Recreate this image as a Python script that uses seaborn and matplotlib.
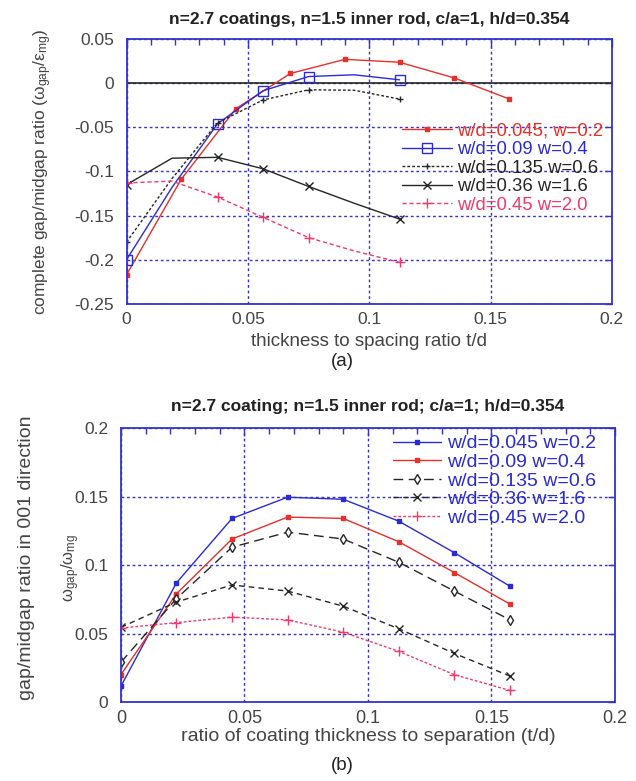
import matplotlib
matplotlib.use("Agg")
import matplotlib.pyplot as plt
from matplotlib.ticker import MultipleLocator
import seaborn as sns

# ---- panel (a): gap/midgap vs t/d ----
t_a_045 = [0, 0.0225, 0.045, 0.0675, 0.09, 0.1125, 0.135, 0.1575]
g_a_045 = [-0.217, -0.109, -0.029, 0.011, 0.027, 0.0237, 0.006, -0.0177]
t_a = [0, 0.01875, 0.0375, 0.05625, 0.075, 0.09375, 0.1125]
g_a_09 = [-0.2, -0.118, -0.046, -0.0086, 0.0075, 0.0095, 0.0038]
g_a_135 = [-0.18, -0.108, -0.045, -0.019, -0.0075, -0.008, -0.018]
g_a_36 = [-0.115, -0.085, -0.084, -0.097, -0.117, -0.136, -0.154]
g_a_45 = [-0.113, -0.111, -0.129, -0.152, -0.175, -0.19, -0.203]
labels_a = ["w/d=0.045, w=0.2", "w/d=0.09 w=0.4", "w/d=0.135 w=0.6",
            "w/d=0.36 w=1.6", "w/d=0.45 w=2.0"]

# ---- panel (b): 001 direction ----
t_b = [0, 0.0225, 0.045, 0.0675, 0.09, 0.1125, 0.135, 0.1575]
g_b_045 = [0.0115, 0.087, 0.134, 0.1495, 0.148, 0.132, 0.109, 0.0845]
g_b_09 = [0.020, 0.079, 0.119, 0.135, 0.134, 0.117, 0.0945, 0.0715]
g_b_135 = [0.029, 0.0755, 0.113, 0.124, 0.119, 0.102, 0.081, 0.060]
g_b_36 = [0.0545, 0.073, 0.0855, 0.081, 0.070, 0.0535, 0.0355, 0.019]
g_b_45 = [0.054, 0.058, 0.062, 0.060, 0.051, 0.037, 0.020, 0.0085]
labels_b = ["w/d=0.045 w=0.2", "w/d=0.09 w=0.4", "w/d=0.135 w=0.6",
            "w/d=0.36 w=1.6", "w/d=0.45 w=2.0"]

ROJO = "#e8302a"
AZUL = "#2b2bd6"
NEGRO = "#262626"
ROSA = "#f23a6a"
MARCO = "#3333cc"
GRIS = "#444444"

sns.set_style("white")
plt.rcParams["font.family"] = ["Liberation Sans", "DejaVu Sans"]
plt.rcParams["mathtext.default"] = "regular"


def fmt(v, p):
    v = round(v, 4)
    return "0" if v == 0 else f"{v:g}"


def serie(ax, t, g, color, ls, marker, ms, label, mev=None, mfc=None, mew=1.0):
    sns.lineplot(x=t, y=g, ax=ax, color=color, linestyle=ls, lw=1.0,
                 marker=marker, markersize=ms, markevery=mev,
                 markerfacecolor=color if mfc is None else mfc,
                 markeredgecolor=color, markeredgewidth=mew,
                 label=label, sort=False, estimator=None)


def ejes(ax, ymin, ymax, xsize):
    ax.set_xlim(0, 0.2)
    ax.set_ylim(ymin, ymax)
    ax.xaxis.set_major_locator(MultipleLocator(0.05))
    ax.xaxis.set_minor_locator(MultipleLocator(0.01))
    ax.yaxis.set_major_locator(MultipleLocator(0.05))
    ax.tick_params(axis="both", which="both", direction="in", colors=MARCO,
                   labelcolor=GRIS, labelsize=12.5, top=True, right=True)
    ax.tick_params(axis="x", which="major", length=6, width=1, pad=6, labelsize=xsize)
    ax.tick_params(axis="x", which="minor", length=4, width=1)
    ax.tick_params(axis="y", which="major", length=5, width=1, pad=9)
    ax.xaxis.set_major_formatter(plt.FuncFormatter(fmt))
    ax.yaxis.set_major_formatter(plt.FuncFormatter(fmt))
    ax.grid(True, which="major", color=MARCO, linestyle=(0, (2, 2)), lw=1.0)
    for s in ax.spines.values():
        s.set_color(MARCO)
        s.set_linewidth(1.3)


fig = plt.figure(figsize=(6.36, 7.81), dpi=100)
ax1 = fig.add_axes([0.199, 0.611, 0.763, 0.339])
ax2 = fig.add_axes([0.190, 0.101, 0.777, 0.351])

# panel (a)
ejes(ax1, -0.25, 0.05, 12.5)
ax1.axhline(0, color=NEGRO, lw=1.2, zorder=1.5)
mk = [0, 2, 3, 4, 6]
serie(ax1, t_a_045, g_a_045, ROJO, "-", "s", 3.5, labels_a[0])
serie(ax1, t_a, g_a_09, AZUL, "-", "s", 6.5, labels_a[1], mev=mk, mfc="none")
serie(ax1, t_a, g_a_135, NEGRO, (0, (2, 1.5)), "+", 4, labels_a[2], mev=mk)
serie(ax1, t_a, g_a_36, NEGRO, "-", "x", 6, labels_a[3], mev=mk)
serie(ax1, t_a, g_a_45, ROSA, (0, (3, 2)), "+", 7, labels_a[4], mev=mk)
leg1 = ax1.legend(loc="upper left", bbox_to_anchor=(0.567, 0.684), frameon=False,
                  fontsize=13.3, handlelength=2.7, labelspacing=0.08,
                  handletextpad=0.3, borderpad=0, borderaxespad=0)
for txt, c in zip(leg1.get_texts(), [ROJO, AZUL, NEGRO, NEGRO, ROSA]):
    txt.set_color(c)
ax1.set_title("n=2.7 coatings, n=1.5 inner rod, c/a=1, h/d=0.354",
              fontsize=12.5, fontweight="bold", color="#222222", pad=11)
ax1.set_xlabel("thickness to spacing ratio t/d", fontsize=13.5, color=GRIS)
ax1.xaxis.set_label_coords(0.5, -0.109)
ax1.set_ylabel("complete gap/midgap ratio (ω$_{gap}$/ε$_{mg}$)", fontsize=12.5, color=GRIS)
ax1.yaxis.set_label_coords(-0.149, 0.5)
fig.text(0.539, 1 - 362 / 781, "(a)", ha="center", va="center", fontsize=13.5, color="#222222")

# panel (b)
ejes(ax2, 0, 0.2, 13)
serie(ax2, t_b, g_b_045, AZUL, "-", "s", 3, labels_b[0])
serie(ax2, t_b, g_b_09, ROJO, "-", "s", 3.5, labels_b[1])
serie(ax2, t_b, g_b_135, NEGRO, (0, (7, 4)), "d", 5, labels_b[2], mfc="white")
serie(ax2, t_b, g_b_36, NEGRO, (0, (4, 3)), "x", 5.5, labels_b[3])
serie(ax2, t_b, g_b_45, ROSA, (0, (2, 1.5)), "+", 7, labels_b[4])
leg2 = ax2.legend(loc="upper left", bbox_to_anchor=(0.55, 0.975), frameon=False,
                  fontsize=14, handlelength=2.5, labelspacing=0.05,
                  handletextpad=0.3, borderpad=0, borderaxespad=0)
for txt in leg2.get_texts():
    txt.set_color(AZUL)
ax2.set_title("n=2.7 coating; n=1.5 inner rod; c/a=1; h/d=0.354",
              fontsize=12.5, fontweight="bold", color="#222222", pad=12)
ax2.set_xlabel("ratio of coating thickness to separation (t/d)", fontsize=14, color=GRIS)
ax2.xaxis.set_label_coords(0.5, -0.095)
ax2.set_ylabel("ω$_{gap}$/ω$_{mg}$", fontsize=12, color=GRIS)
ax2.yaxis.set_label_coords(-0.078, 0.49)
fig.text(0.042, 1 - 558 / 781, "gap/midgap ratio in 001 direction", rotation=90,
         ha="center", va="center", fontsize=14, color=GRIS)
fig.text(0.539, 1 - 766 / 781, "(b)", ha="center", va="center", fontsize=13.5, color="#222222")

fig.savefig("out.png", dpi=100)
